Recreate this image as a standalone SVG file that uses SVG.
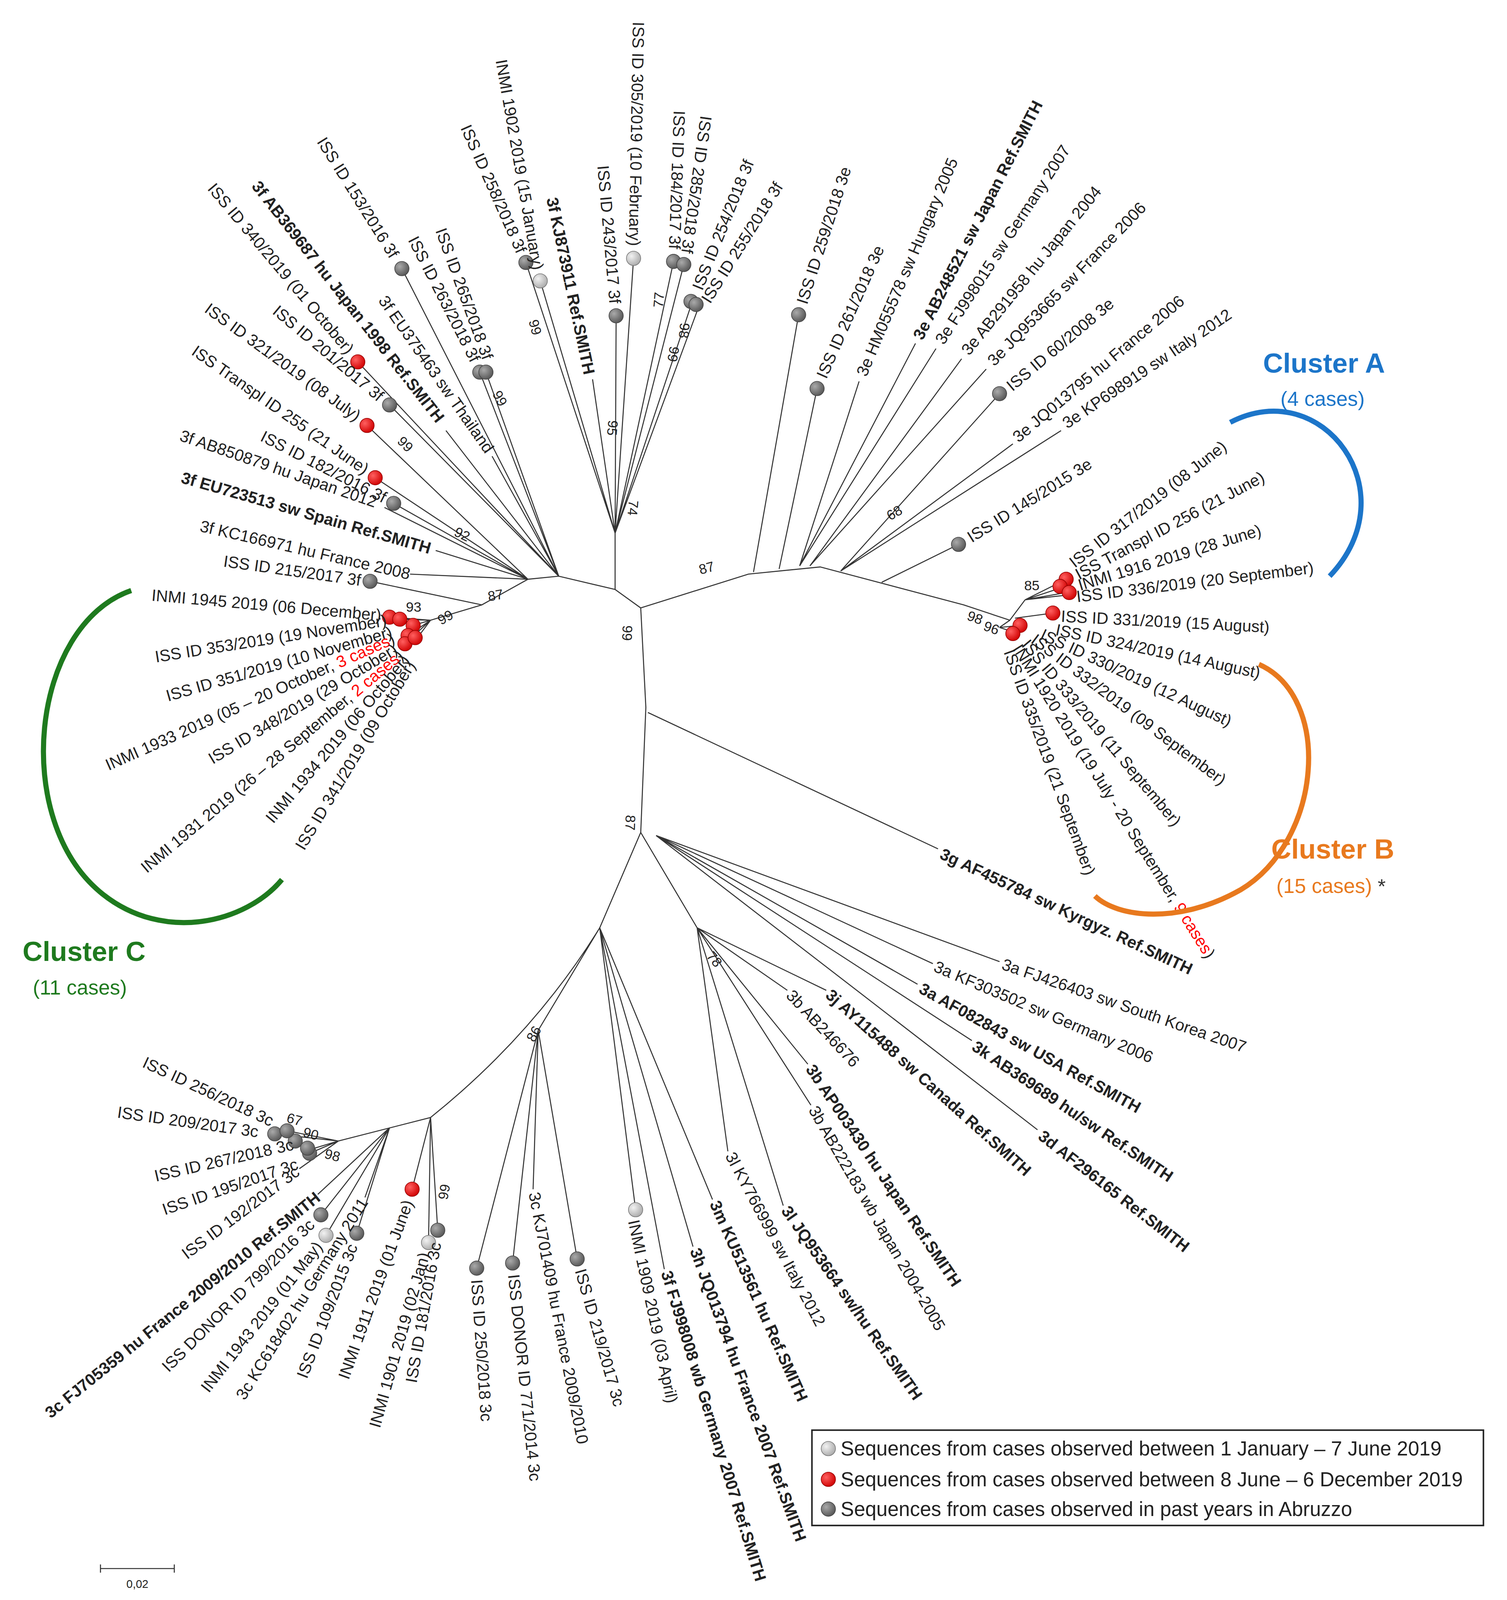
<svg xmlns="http://www.w3.org/2000/svg" width="3858" height="4140" viewBox="0 0 3858 4140">
<defs>
<style>
text{font-family:"Liberation Sans",Arial,sans-serif;font-size:16px;fill:#222;dominant-baseline:central}
.e{text-anchor:end}
.b{font-weight:bold}
.bs{font-size:13.5px}
.br{stroke:#333;stroke-width:1;fill:none}
.red{fill:#f00}
.dk{fill:url(#gd);stroke:#444;stroke-width:0.6}
.lt{fill:url(#gl);stroke:#777;stroke-width:0.6}
.rd{fill:url(#gr);stroke:#900;stroke-width:0.6}
</style>
<radialGradient id="gd" cx="0.35" cy="0.35" r="0.7"><stop offset="0" stop-color="#aaa"/><stop offset="1" stop-color="#555"/></radialGradient>
<radialGradient id="gl" cx="0.35" cy="0.35" r="0.7"><stop offset="0" stop-color="#f2f2f2"/><stop offset="1" stop-color="#aaa"/></radialGradient>
<radialGradient id="gr" cx="0.35" cy="0.35" r="0.7"><stop offset="0" stop-color="#ff6060"/><stop offset="1" stop-color="#d00000"/></radialGradient>
</defs>
<rect width="3858" height="4140" fill="#fff"/>
<g transform="scale(2.6245)">
<g id="connectors" class="br">
<path d="M625,593 L600,575 L600,520 M600,575 L545,562 L515,565 L470,590 L420,605 M625,593 L630,690 L625,812 M632,695 L915,828 M625,593 L730,560 L800,553 L940,590 L985,605 L1000,585 M985,605 L975,612"/>
<path d="M545,562 L392,262 M545,562 L435,420 M545,562 L349,353 M545,562 L380,395 M515,565 L358,415 M515,565 L366,466 M515,565 L384,491 M515,565 L375,495 M515,565 L425,537 M515,565 L400,560 M470,590 L361,567 M545,562 L480,445 M545,562 L468,363 M545,562 L474,363"/>
<path d="M600,520 L513,256 M600,520 L527,274 M600,520 L578,370 M600,520 L618,252 M600,520 L601,308 M600,520 L657,255 M600,520 L667,258 M600,520 L676,292 M600,520 L682,298"/>
<path d="M735,558 L779,307 M760,555 L797,379 M780,552 L838,372 M780,552 L893,335 M780,552 L913,340 M790,552 L938,350 M790,552 L962,360 M820,557 L975,384 M820,557 L988,433 M820,557 L1035,420 M860,568 L935,531"/>
<path d="M1000,585 L1040,565 M1000,585 L1045,570 M1000,585 L1040,578 M1000,585 L1045,580 M990,603 L1027,598 M975,612 L990,617 M975,612 L996,610"/>
<path d="M420,605 L380,602 M420,605 L390,604 M420,605 L403,610 M420,605 L398,620 M420,605 L395,628 M420,605 L405,625"/>
<path d="M640,815 L975,938 M640,815 L910,940 M640,815 L895,960 M640,815 L948,1015 M640,815 L1012,1102 M625,812 L680,905 M680,905 L768,966 M680,905 L806,966 M680,905 L788,1038 M680,905 L791,1078 M680,905 L764,1176 M680,905 L710,1123"/>
<path d="M625,812 L585,905 M585,905 L695,1170 M585,905 L676,1216 M585,905 L648,1238 M585,905 L620,1180 M585,905 L525,1005 M525,1005 L563,1228 M525,1005 L520,1160 M525,1005 L500,1232 M525,1005 L465,1237 M585,905 Q520,1010 420,1090 L330,1113 M420,1090 L427,1200 M420,1090 L418,1212 M420,1090 L402,1160 M380,1100 L348,1203 M380,1100 L356,1168 M380,1100 L318,1205 M380,1100 L313,1185 M380,1100 L310,1165 M330,1113 L292,1140 M330,1113 L302,1125 M330,1113 L300,1122 M330,1113 L268,1106 M330,1113 L280,1103"/>
</g>
<g id="dots">
<circle class="dk" cx="392" cy="262" r="7"/><circle class="rd" cx="349" cy="353" r="7"/><circle class="dk" cx="380" cy="395" r="7"/><circle class="rd" cx="358" cy="415" r="7"/><circle class="rd" cx="366" cy="466" r="7"/><circle class="dk" cx="384" cy="491" r="7"/><circle class="dk" cx="361" cy="567" r="7"/>
<circle class="dk" cx="468" cy="363" r="7"/><circle class="dk" cx="474" cy="363" r="7"/><circle class="dk" cx="513" cy="256" r="7"/><circle class="lt" cx="527" cy="274" r="7"/><circle class="lt" cx="618" cy="252" r="7"/><circle class="dk" cx="601" cy="308" r="7"/><circle class="dk" cx="657" cy="255" r="7"/><circle class="dk" cx="667" cy="258" r="7"/><circle class="dk" cx="674" cy="294" r="7"/><circle class="dk" cx="679" cy="297" r="7"/>
<circle class="dk" cx="779" cy="307" r="7"/><circle class="dk" cx="797" cy="379" r="7"/><circle class="dk" cx="975" cy="384" r="7"/><circle class="dk" cx="935" cy="531" r="7"/>
<circle class="rd" cx="1040" cy="565" r="7"/><circle class="rd" cx="1034" cy="572" r="7"/><circle class="rd" cx="1043" cy="578" r="7"/><circle class="rd" cx="1027" cy="598" r="7"/><circle class="rd" cx="995" cy="610" r="7"/><circle class="rd" cx="988" cy="618" r="7"/>
<circle class="rd" cx="380" cy="602" r="7"/><circle class="rd" cx="390" cy="604" r="7"/><circle class="rd" cx="403" cy="610" r="7"/><circle class="rd" cx="398" cy="620" r="7"/><circle class="rd" cx="395" cy="628" r="7"/><circle class="rd" cx="405" cy="622" r="7"/>
<circle class="lt" cx="620" cy="1180" r="7"/><circle class="dk" cx="563" cy="1228" r="7"/><circle class="dk" cx="500" cy="1232" r="7"/><circle class="dk" cx="465" cy="1237" r="7"/><circle class="dk" cx="427" cy="1200" r="7"/><circle class="lt" cx="418" cy="1212" r="7"/><circle class="rd" cx="402" cy="1160" r="7"/><circle class="dk" cx="348" cy="1203" r="7"/><circle class="lt" cx="318" cy="1205" r="7"/><circle class="dk" cx="313" cy="1185" r="7"/>
<circle class="dk" cx="302" cy="1125" r="7"/><circle class="dk" cx="288" cy="1113" r="7"/><circle class="dk" cx="268" cy="1106" r="7"/><circle class="dk" cx="280" cy="1103" r="7"/><circle class="dk" cx="300" cy="1120" r="7"/>
</g>
<g id="labels">
<text class="e" x="385" y="250" transform="rotate(58 385 250)">ISS ID 153/2016 3f</text>
<text class="e b" x="430" y="410" transform="rotate(52 430 410)">3f AB369687 hu Japan 1998 Ref.SMITH</text>
<text class="e" x="342" y="343" transform="rotate(50 342 343)">ISS ID 340/2019 (01 October)</text>
<text class="e" x="372" y="388" transform="rotate(40 372 388)">ISS ID 201/2017 3f</text>
<text class="e" x="350" y="407" transform="rotate(36 350 407)">ISS ID 321/2019 (08 July)</text>
<text class="e" x="358" y="459" transform="rotate(35 358 459)">ISS Transpl ID 255 (21 June)</text>
<text class="e" x="376" y="486" transform="rotate(27 376 486)">ISS ID 182/2016 3f</text>
<text class="e" x="367" y="490" transform="rotate(19 367 490)">3f AB850879 hu Japan 2012</text>
<text class="e b" x="420" y="535" transform="rotate(16 420 535)">3f EU723513 sw Spain Ref.SMITH</text>
<text class="e" x="400" y="560" transform="rotate(13 400 560)">3f KC166971 hu France 2008</text>
<text class="e" x="352" y="566" transform="rotate(8 352 566)">ISS ID 215/2017 3f</text>
<text class="e" x="478" y="440" transform="rotate(55 478 440)">3f EU375463 sw Thailand</text>
<text class="e" x="464" y="352" transform="rotate(63 464 352)">ISS ID 263/2018 3f</text>
<text class="e" x="476" y="350" transform="rotate(70 476 350)">ISS ID 265/2018 3f</text>
<text class="e" x="509" y="246" transform="rotate(66 509 246)">ISS ID 258/2018 3f</text>
<text class="e" x="525" y="263" transform="rotate(80 525 263)">INMI 1902 2019 (15 January)</text>
<text class="e b" x="575" y="365" transform="rotate(78 575 365)">3f KJ873911 Ref.SMITH</text>
<text class="e" x="619" y="240" transform="rotate(91 619 240)">ISS ID 305/2019 (10 February)</text>
<text class="e" x="600" y="296" transform="rotate(85 600 296)">ISS ID 243/2017 3f</text>
<text class="e" x="658" y="243" transform="rotate(92 658 243)">ISS ID 184/2017 3f</text>
<text class="e" x="670" y="247" transform="rotate(98 670 247)">ISS ID 285/2018 3f</text>
<text x="680" y="282" transform="rotate(-68 680 282)">ISS ID 254/2018 3f</text>
<text x="688" y="294" transform="rotate(-58 688 294)">ISS ID 255/2018 3f</text>
<text x="782" y="296" transform="rotate(-72 782 296)">ISS ID 259/2018 3e</text>
<text x="801" y="368" transform="rotate(-66 801 368)">ISS ID 261/2018 3e</text>
<text x="840" y="366" transform="rotate(-67 840 366)">3e HM055578 sw Hungary 2005</text>
<text class="b" x="895" y="330" transform="rotate(-63 895 330)">3e AB248521 sw Japan Ref.SMITH</text>
<text x="916" y="334" transform="rotate(-57 916 334)">3e FJ998015 sw Germany 2007</text>
<text x="941" y="344" transform="rotate(-51 941 344)">3e AB291958 hu Japan 2004</text>
<text x="966" y="354" transform="rotate(-46 966 354)">3e JQ953665 sw France 2006</text>
<text x="984" y="378" transform="rotate(-40 984 378)">ISS ID 60/2008 3e</text>
<text x="990" y="428" transform="rotate(-40 990 428)">3e JQ013795 hu France 2006</text>
<text x="1038" y="414" transform="rotate(-34 1038 414)">3e KP698919 sw Italy 2012</text>
<text x="945" y="525" transform="rotate(-32 945 525)">ISS ID 145/2015 3e</text>
<text x="1045" y="550" transform="rotate(-38 1045 550)">ISS ID 317/2019 (08 June)</text>
<text x="1050" y="561" transform="rotate(-28 1050 561)">ISS Transpl ID 256 (21 June)</text>
<text x="1052" y="571" transform="rotate(-17 1052 571)">INMI 1916 2019 (28 June)</text>
<text x="1050" y="582" transform="rotate(-7 1050 582)">ISS ID 336/2019 (20 September)</text>
<text x="1035" y="601" transform="rotate(3 1035 601)">ISS ID 331/2019 (15 August)</text>
<text x="1030" y="614" transform="rotate(12 1030 614)">ISS ID 324/2019 (14 August)</text>
<text x="1016" y="618" transform="rotate(25 1016 618)">ISS ID 330/2019 (12 August)</text>
<text x="1008" y="622" transform="rotate(37 1008 622)">ISS ID 332/2019 (09 September)</text>
<text x="1000" y="626" transform="rotate(50 1000 626)">ISS ID 333/2019 (11 September)</text>
<text x="992" y="630" transform="rotate(58 992 630)">INMI 1920 2019 (19 July - 20 September, <tspan class="red">9 cases</tspan>)</text>
<text x="984" y="634" transform="rotate(70 984 634)">ISS ID 335/2019 (21 September)</text>
<text class="b" x="918" y="832" transform="rotate(25 918 832)">3g AF455784 sw Kyrgyz. Ref.SMITH</text>
<text x="978" y="940" transform="rotate(19 978 940)">3a FJ426403 sw South Korea 2007</text>
<text x="912" y="942" transform="rotate(23 912 942)">3a KF303502 sw Germany 2006</text>
<text class="b" x="898" y="963" transform="rotate(29 898 963)">3a AF082843 sw USA Ref.SMITH</text>
<text class="b" x="950" y="1019" transform="rotate(34 950 1019)">3k AB369689 hu/sw Ref.SMITH</text>
<text class="b" x="1015" y="1106" transform="rotate(38 1015 1106)">3d AF296165 Ref.SMITH</text>
<text x="770" y="968" transform="rotate(47 770 968)">3b AB246676</text>
<text class="b" x="808" y="968" transform="rotate(42 808 968)">3j AY115488 sw Canada Ref.SMITH</text>
<text class="b" x="790" y="1040" transform="rotate(56 790 1040)">3b AP003430 hu Japan Ref.SMITH</text>
<text x="793" y="1080" transform="rotate(60 793 1080)">3b AB222183 wb Japan 2004-2005</text>
<text class="b" x="766" y="1178" transform="rotate(55 766 1178)">3l JQ953664 sw/hu Ref.SMITH</text>
<text x="712" y="1125" transform="rotate(62 712 1125)">3l KY766999 sw Italy 2012</text>
<text class="b" x="697" y="1172" transform="rotate(66 697 1172)">3m KU513561 hu Ref.SMITH</text>
<text class="b" x="678" y="1218" transform="rotate(70 678 1218)">3h JQ013794 hu France 2007 Ref.SMITH</text>
<text class="b" x="650" y="1240" transform="rotate(73 650 1240)">3f FJ998008 wb Germany 2007 Ref.SMITH</text>
<text x="618" y="1190" transform="rotate(78 618 1190)">INMI 1909 2019 (03 April)</text>
<text x="566" y="1238" transform="rotate(74 566 1238)">ISS ID 219/2017 3c</text>
<text x="521" y="1163" transform="rotate(79 521 1163)">3c KJ701409 hu France 2009/2010</text>
<text x="501" y="1243" transform="rotate(84 501 1243)">ISS DONOR ID 771/2014 3c</text>
<text x="465" y="1248" transform="rotate(86 465 1248)">ISS ID 250/2018 3c</text>
<text class="e" x="425" y="1212" transform="rotate(-80 425 1212)">ISS ID 181/2016 3c</text>
<text class="e" x="414" y="1222" transform="rotate(-74 414 1222)">INMI 1901 2019 (02 Jan)</text>
<text class="e" x="398" y="1171" transform="rotate(-70 398 1171)">INMI 1911 2019 (01 June)</text>
<text class="e" x="344" y="1214" transform="rotate(-69 344 1214)">ISS ID 109/2015 3c</text>
<text class="e" x="355" y="1170" transform="rotate(-58 355 1170)">3c KC618402 hu Germany 2011</text>
<text class="e" x="311" y="1213" transform="rotate(-52 311 1213)">INMI 1943 2019 (01 May)</text>
<text class="e" x="304" y="1192" transform="rotate(-45 304 1192)">ISS DONOR ID 799/2016 3c</text>
<text class="e b" x="310" y="1166" transform="rotate(-39 310 1166)">3c FJ705359 hu France 2009/2010 Ref.SMITH</text>
<text class="e" x="290" y="1141" transform="rotate(-37 290 1141)">ISS ID 192/2017 3c</text>
<text class="e" x="290" y="1135" transform="rotate(-19 290 1135)">ISS ID 195/2017 3c</text>
<text class="e" x="286" y="1116" transform="rotate(-13 286 1116)">ISS ID 267/2018 3c</text>
<text class="e" x="252" y="1104" transform="rotate(8 252 1104)">ISS ID 209/2017 3c</text>
<text class="e" x="266" y="1094" transform="rotate(25 266 1094)">ISS ID 256/2018 3c</text>
<text class="e" x="372" y="600" transform="rotate(5 372 600)">INMI 1945 2019 (06 December)</text>
<text class="e" x="377" y="605" transform="rotate(-9 377 605)">ISS ID 353/2019 (19 November)</text>
<text class="e" x="382" y="616" transform="rotate(-16 382 616)">ISS ID 351/2019 (10 November)</text>
<text class="e" x="384" y="622" transform="rotate(-24 384 622)">INMI 1933 2019 (05 – 20 October, <tspan class="red">3 cases</tspan>)</text>
<text class="e" x="386" y="632" transform="rotate(-31 386 632)">ISS ID 348/2019 (29 October)</text>
<text class="e" x="391" y="637" transform="rotate(-40 391 637)">INMI 1931 2019 (26 – 28 September, <tspan class="red">2 cases</tspan>)</text>
<text class="e" x="396" y="641" transform="rotate(-50 396 641)">INMI 1934 2019 (06 October)</text>
<text class="e" x="401" y="646" transform="rotate(-59 401 646)">ISS ID 341/2019 (09 October)</text>
</g>
<g id="bootstrap">
<text class="bs" x="598" y="410" transform="rotate(95 598 410)">95</text>
<text class="bs" x="618" y="488" transform="rotate(95 618 488)">74</text>
<text class="bs" x="612" y="610" transform="rotate(92 612 610)">99</text>
<text class="bs" x="615" y="795" transform="rotate(92 615 795)">87</text>
<text class="bs" x="682" y="556" transform="rotate(-15 682 556)">87</text>
<text class="bs" x="866" y="504" transform="rotate(-30 866 504)">68</text>
<text class="bs" x="520" y="312" transform="rotate(75 520 312)">99</text>
<text class="bs" x="484" y="382" transform="rotate(62 484 382)">99</text>
<text class="bs" x="390" y="428" transform="rotate(45 390 428)">99</text>
<text class="bs" x="444" y="518" transform="rotate(25 444 518)">92</text>
<text class="bs" x="476" y="582" transform="rotate(-10 476 582)">87</text>
<text class="bs" x="396" y="592">93</text>
<text class="bs" x="428" y="606" transform="rotate(-30 428 606)">99</text>
<text class="bs" x="642" y="300" transform="rotate(-85 642 300)">77</text>
<text class="bs" x="668" y="315" transform="rotate(95 668 315)">98</text>
<text class="bs" x="658" y="338" transform="rotate(100 658 338)">99</text>
<text class="bs" x="999" y="571">85</text>
<text class="bs" x="944" y="600" transform="rotate(20 944 600)">98</text>
<text class="bs" x="960" y="610" transform="rotate(20 960 610)">96</text>
<text class="bs" x="692" y="930" transform="rotate(50 692 930)">78</text>
<text class="bs" x="517" y="1015" transform="rotate(-60 517 1015)">86</text>
<text class="bs" x="280" y="1090" transform="rotate(15 280 1090)">67</text>
<text class="bs" x="296" y="1104" transform="rotate(15 296 1104)">90</text>
<text class="bs" x="317" y="1125" transform="rotate(15 317 1125)">98</text>
<text class="bs" x="432" y="1170" transform="rotate(-80 432 1170)">99</text>
</g>
<g id="clusterA">
<path d="M1200,412 C1290,365 1375,480 1297,562" fill="none" stroke="#1c75c9" stroke-width="5"/>
<text x="1232" y="354" style="font-size:27px;fill:#1c75c9;font-weight:bold">Cluster A</text>
<text x="1249" y="389" style="font-size:20px;fill:#1c75c9">(4 cases)</text>
</g>
<g id="clusterB">
<path d="M1228,648 C1300,680 1290,820 1210,868 C1150,902 1090,895 1068,874" fill="none" stroke="#e8791e" stroke-width="5"/>
<text x="1240" y="828" style="font-size:27px;fill:#e8791e;font-weight:bold">Cluster B</text>
<text x="1245" y="864" style="font-size:20px;fill:#e8791e">(15 cases) <tspan style="fill:#333">*</tspan></text>
</g>
<g id="clusterC">
<path d="M128,576 C30,610 10,800 100,872 C160,920 240,900 275,858" fill="none" stroke="#1e7a1e" stroke-width="5"/>
<text x="22" y="928" style="font-size:27px;fill:#1e7a1e;font-weight:bold">Cluster C</text>
<text x="32" y="963" style="font-size:20px;fill:#1e7a1e">(11 cases)</text>
</g>
<g id="legend">
<rect x="792" y="1395" width="655" height="93" fill="#fff" stroke="#222" stroke-width="1.5"/>
<circle class="lt" cx="808" cy="1413" r="7"/><circle class="rd" cx="808" cy="1443" r="7"/><circle class="dk" cx="808" cy="1472" r="7"/>
<text x="820" y="1413" style="font-size:19.6px">Sequences from cases observed between 1 January – 7 June 2019</text>
<text x="820" y="1443" style="font-size:19.6px">Sequences from cases observed between 8 June – 6 December 2019</text>
<text x="820" y="1472" style="font-size:19.6px">Sequences from cases observed in past years in Abruzzo</text>
</g>
<g id="scale">
<path d="M98,1530 H170 M98,1526 V1534 M170,1526 V1534" stroke="#333" stroke-width="1" fill="none"/>
<text x="134" y="1545" style="font-size:11px;text-anchor:middle">0,02</text>
</g>
</g>
</svg>
